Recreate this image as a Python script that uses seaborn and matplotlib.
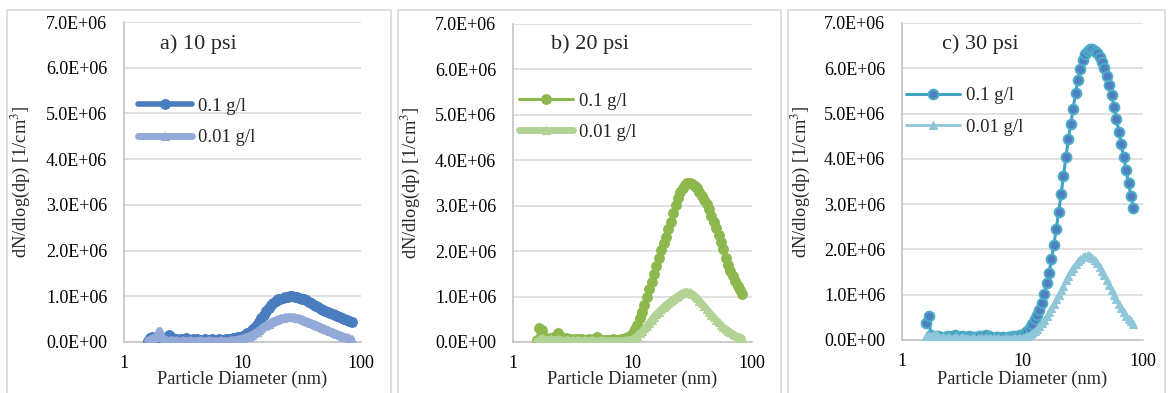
import numpy as np
import matplotlib
matplotlib.use("Agg")
import matplotlib.pyplot as plt
import seaborn as sns
from matplotlib.ticker import FuncFormatter, FixedLocator, NullLocator
from matplotlib.patches import Rectangle

# ---------------- data ----------------
diameter_nm = [1.585, 1.660, 1.738, 1.820, 1.905, 1.995, 2.089, 2.188, 2.291, 2.399,
               2.512, 2.630, 2.754, 2.884, 3.020, 3.162, 3.311, 3.467, 3.631, 3.802,
               3.981, 4.169, 4.365, 4.571, 4.786, 5.012, 5.248, 5.495, 5.754, 6.026,
               6.310, 6.607, 6.918, 7.244, 7.586, 7.943, 8.318, 8.710, 9.120, 9.550,
               10.00, 10.47, 10.96, 11.48, 12.02, 12.59, 13.18, 13.80, 14.45, 15.14,
               15.85, 16.60, 17.38, 18.20, 19.05, 19.95, 20.89, 21.88, 22.91, 23.99,
               25.12, 26.30, 27.54, 28.84, 30.20, 31.62, 33.11, 34.67, 36.31, 38.02,
               39.81, 41.69, 43.65, 45.71, 47.86, 50.12, 52.48, 54.95, 57.54, 60.26,
               63.10, 66.07, 69.18, 72.44, 75.86, 79.43, 83.18]

# dN/dlog(dp) values in units of 1E+06 1/cm3
psi10_01g = [0.02, 0.08, 0.10, 0.06, 0.05, 0.07, 0.08, 0.09, 0.12, 0.16,
             0.11, 0.06, 0.07, 0.04, 0.06, 0.05, 0.08, 0.04, 0.05, 0.07,
             0.04, 0.06, 0.05, 0.03, 0.06, 0.05, 0.04, 0.07, 0.05, 0.04,
             0.06, 0.05, 0.04, 0.06, 0.07, 0.06, 0.08, 0.09, 0.10, 0.12,
             0.14, 0.16, 0.19, 0.22, 0.26, 0.31, 0.37, 0.44, 0.52, 0.60,
             0.67, 0.74, 0.80, 0.85, 0.89, 0.93, 0.95, 0.97, 0.98, 0.99,
             1.00, 1.00, 0.99, 0.98, 0.97, 0.95, 0.93, 0.91, 0.88, 0.85,
             0.82, 0.79, 0.76, 0.73, 0.71, 0.68, 0.65, 0.63, 0.61, 0.58,
             0.56, 0.54, 0.52, 0.50, 0.48, 0.46, 0.44]
psi10_001g = [0.03, 0.06, 0.08, 0.10, 0.14, 0.25, 0.12, 0.06, 0.04, 0.03,
              0.05, 0.03, 0.04, 0.02, 0.03, 0.04, 0.02, 0.03, 0.04, 0.02,
              0.03, 0.02, 0.04, 0.03, 0.02, 0.03, 0.04, 0.02, 0.03, 0.02,
              0.03, 0.04, 0.02, 0.03, 0.03, 0.04, 0.04, 0.05, 0.06, 0.07,
              0.08, 0.10, 0.12, 0.14, 0.16, 0.19, 0.22, 0.26, 0.30, 0.34,
              0.37, 0.40, 0.43, 0.46, 0.48, 0.50, 0.52, 0.53, 0.54, 0.55,
              0.55, 0.55, 0.54, 0.53, 0.52, 0.50, 0.48, 0.46, 0.44, 0.42,
              0.40, 0.38, 0.36, 0.33, 0.31, 0.29, 0.26, 0.24, 0.22, 0.20,
              0.18, 0.16, 0.14, 0.12, 0.10, 0.08, 0.06]
psi20_01g = [0.05, 0.30, 0.26, 0.12, 0.08, 0.07, 0.09, 0.10, 0.12, 0.20,
             0.10, 0.07, 0.08, 0.06, 0.07, 0.05, 0.06, 0.07, 0.05, 0.06,
             0.05, 0.04, 0.06, 0.05, 0.07, 0.10, 0.06, 0.05, 0.04, 0.05,
             0.04, 0.05, 0.06, 0.04, 0.05, 0.06, 0.07, 0.08, 0.10, 0.13,
             0.20, 0.28, 0.38, 0.52, 0.66, 0.82, 1.00, 1.17, 1.33, 1.50,
             1.68, 1.86, 2.02, 2.17, 2.32, 2.48, 2.65, 2.85, 3.02, 3.18,
             3.31, 3.40, 3.46, 3.50, 3.50, 3.47, 3.43, 3.38, 3.30, 3.22,
             3.13, 3.03, 2.92, 2.78, 2.64, 2.50, 2.36, 2.20, 2.04, 1.86,
             1.70, 1.57, 1.45, 1.35, 1.24, 1.15, 1.06]
psi20_001g = [0.02, 0.05, 0.08, 0.06, 0.05, 0.04, 0.06, 0.05, 0.04, 0.06,
              0.05, 0.03, 0.04, 0.05, 0.03, 0.04, 0.03, 0.04, 0.02, 0.03,
              0.04, 0.02, 0.03, 0.04, 0.03, 0.02, 0.03, 0.04, 0.03, 0.02,
              0.03, 0.03, 0.02, 0.03, 0.03, 0.03, 0.03, 0.04, 0.04, 0.05,
              0.06, 0.10, 0.14, 0.19, 0.24, 0.30, 0.36, 0.42, 0.49, 0.56,
              0.62, 0.67, 0.72, 0.77, 0.82, 0.86, 0.90, 0.94, 0.98, 1.02,
              1.05, 1.08, 1.10, 1.10, 1.09, 1.06, 1.02, 0.97, 0.91, 0.85,
              0.79, 0.72, 0.66, 0.60, 0.54, 0.48, 0.43, 0.38, 0.33, 0.29,
              0.25, 0.21, 0.18, 0.15, 0.12, 0.10, 0.08]
psi30_01g = [0.38, 0.52, 0.10, 0.06, 0.05, 0.08, 0.06, 0.05, 0.07, 0.09,
             0.06, 0.08, 0.10, 0.07, 0.06, 0.09, 0.07, 0.05, 0.08, 0.06,
             0.07, 0.05, 0.08, 0.09, 0.07, 0.10, 0.08, 0.06, 0.05, 0.07,
             0.06, 0.05, 0.06, 0.05, 0.06, 0.07, 0.08, 0.08, 0.09, 0.10,
             0.12, 0.15, 0.20, 0.27, 0.36, 0.47, 0.56, 0.66, 0.81, 1.02,
             1.25, 1.47, 1.78, 2.10, 2.45, 2.82, 3.22, 3.63, 4.03, 4.43,
             4.76, 5.10, 5.45, 5.75, 5.98, 6.18, 6.32, 6.39, 6.42, 6.42,
             6.39, 6.33, 6.25, 6.13, 6.00, 5.83, 5.62, 5.40, 5.15, 4.88,
             4.60, 4.32, 4.03, 3.75, 3.46, 3.18, 2.92]
psi30_001g = [0.08, 0.12, 0.06, 0.10, 0.14, 0.08, 0.05, 0.07, 0.04, 0.06,
              0.05, 0.04, 0.06, 0.05, 0.04, 0.06, 0.04, 0.05, 0.03, 0.05,
              0.04, 0.03, 0.05, 0.04, 0.03, 0.04, 0.05, 0.03, 0.04, 0.03,
              0.04, 0.03, 0.03, 0.04, 0.03, 0.03, 0.04, 0.04, 0.04, 0.05,
              0.05, 0.07, 0.09, 0.12, 0.15, 0.19, 0.24, 0.30, 0.37, 0.45,
              0.53, 0.62, 0.70, 0.80, 0.90, 1.00, 1.10, 1.20, 1.32, 1.42,
              1.52, 1.60, 1.68, 1.74, 1.79, 1.83, 1.86, 1.87, 1.86, 1.82,
              1.77, 1.70, 1.62, 1.53, 1.43, 1.33, 1.22, 1.11, 1.00, 0.90,
              0.80, 0.71, 0.62, 0.54, 0.47, 0.41, 0.35]

panel_titles = ["a) 10 psi", "b) 20 psi", "c) 30 psi"]
series_labels = ["0.1 g/l", "0.01 g/l"]
x_ticks = [1, 10, 100]
y_ticks = [0, 1e6, 2e6, 3e6, 4e6, 5e6, 6e6, 7e6]

# ---------------- style ----------------
sns.set_theme(style="white")
plt.rcParams["font.family"] = ["Liberation Serif", "DejaVu Serif"]
plt.rcParams["mathtext.fontset"] = "stix"

W, H = 1169, 393
fig = plt.figure(figsize=(W / 100, H / 100), dpi=100)
fig.patch.set_facecolor("white")

# panel frames (pixels)
panel_x = [(7, 391), (398, 781), (788, 1165)]
for x0, x1 in panel_x:
    fig.patches.append(Rectangle((x0 / W, -0.05), (x1 - x0) / W, (H - 10) / H + 0.05,
                                 transform=fig.transFigure, fill=False,
                                 ec="#D9D9D9", lw=1.2))

# axes rectangles: left, top, right, bottom (pixels)
rects = [(124, 22, 361, 342), (513, 24, 752, 342), (902, 23, 1143, 340)]
ylabel_x = [33, 423, 813]

styles = [
    dict(hi=dict(color="#4A7CC0", lw=4.0, marker="o", ms=7.0, mfc="#4A7CC0", mec="#4A7CC0", mew=0.8),
         lo=dict(color="#93AAD8", lw=5.0, marker="^", ms=5.5, mfc="#93AAD8", mec="#93AAD8", mew=0.8)),
    dict(hi=dict(color="#8DB84E", lw=2.2, marker="o", ms=7.0, mfc="#8DB84E", mec="#8DB84E", mew=0.8),
         lo=dict(color="#B3D296", lw=5.0, marker="^", ms=5.5, mfc="#B3D296", mec="#B3D296", mew=0.8)),
    dict(hi=dict(color="#3FA3C2", lw=2.2, marker="o", ms=7.0, mfc="#4F7FC0", mec="#4BACC6", mew=1.4),
         lo=dict(color="#8FC6D8", lw=2.0, marker="^", ms=5.5, mfc="#8FC6D8", mec="#8FC6D8", mew=0.8)),
]
legend_pos = [(0.059, 0.6875), (0.025, 0.709), (0.017, 0.721)]
title_pos = [(0.312, 0.931), (0.322, 0.937), (0.324, 0.934)]
data_sets = [(psi10_01g, psi10_001g), (psi20_01g, psi20_001g), (psi30_01g, psi30_001g)]

for i, (l, t, r, b) in enumerate(rects):
    ax = fig.add_axes([l / W, (H - b) / H, (r - l) / W, (b - t) / H])
    ax.set_xscale("log")
    hi, lo = data_sets[i]
    sns.lineplot(x=diameter_nm, y=np.array(hi) * 1e6, ax=ax, label=series_labels[0],
                 **styles[i]["hi"], zorder=3)
    sns.lineplot(x=diameter_nm, y=np.array(lo) * 1e6, ax=ax, label=series_labels[1],
                 **styles[i]["lo"], zorder=4)
    ax.set_xlim(1, 100)
    ax.set_ylim(0, 7e6)
    ax.xaxis.set_major_locator(FixedLocator(x_ticks))
    ax.xaxis.set_minor_locator(NullLocator())
    ax.xaxis.set_major_formatter(FuncFormatter(lambda v, p: f"{v:g}"))
    ax.yaxis.set_major_locator(FixedLocator(y_ticks))
    ax.yaxis.set_major_formatter(FuncFormatter(lambda v, p: f"{v:.1E}"))
    ax.grid(axis="y", color="#D9D9D9", lw=1.1)
    ax.grid(axis="x", visible=False)
    ax.set_axisbelow(True)
    for s in ["top", "right"]:
        ax.spines[s].set_visible(False)
    for s in ["left", "bottom"]:
        ax.spines[s].set_color("#BFBFBF")
        ax.spines[s].set_linewidth(1.1)
    ax.tick_params(axis="both", which="major", length=0, labelsize=13, colors="black")
    ax.tick_params(axis="y", which="major", pad=12)
    ax.tick_params(axis="x", which="major", pad=9.5)
    ax.set_xlabel("Particle Diameter (nm)", fontsize=13.2)
    ax.set_ylabel("dN/dlog(dp) [1/cm$^{3}$]", fontsize=13.2)
    ax.xaxis.set_label_coords(0.5, -(371 - b) / (b - t))
    ax.yaxis.set_label_coords((ylabel_x[i] - l) / (r - l), 0.5)
    ax.text(title_pos[i][0], title_pos[i][1], panel_titles[i], transform=ax.transAxes,
            ha="center", va="center", fontsize=16)
    ax.legend(loc="center left", bbox_to_anchor=legend_pos[i], frameon=False,
              borderpad=0, borderaxespad=0, handlelength=2.9, handletextpad=0.3,
              labelspacing=0.75, fontsize=13.5, numpoints=1)

fig.savefig("out.png", dpi=100, facecolor="white")
